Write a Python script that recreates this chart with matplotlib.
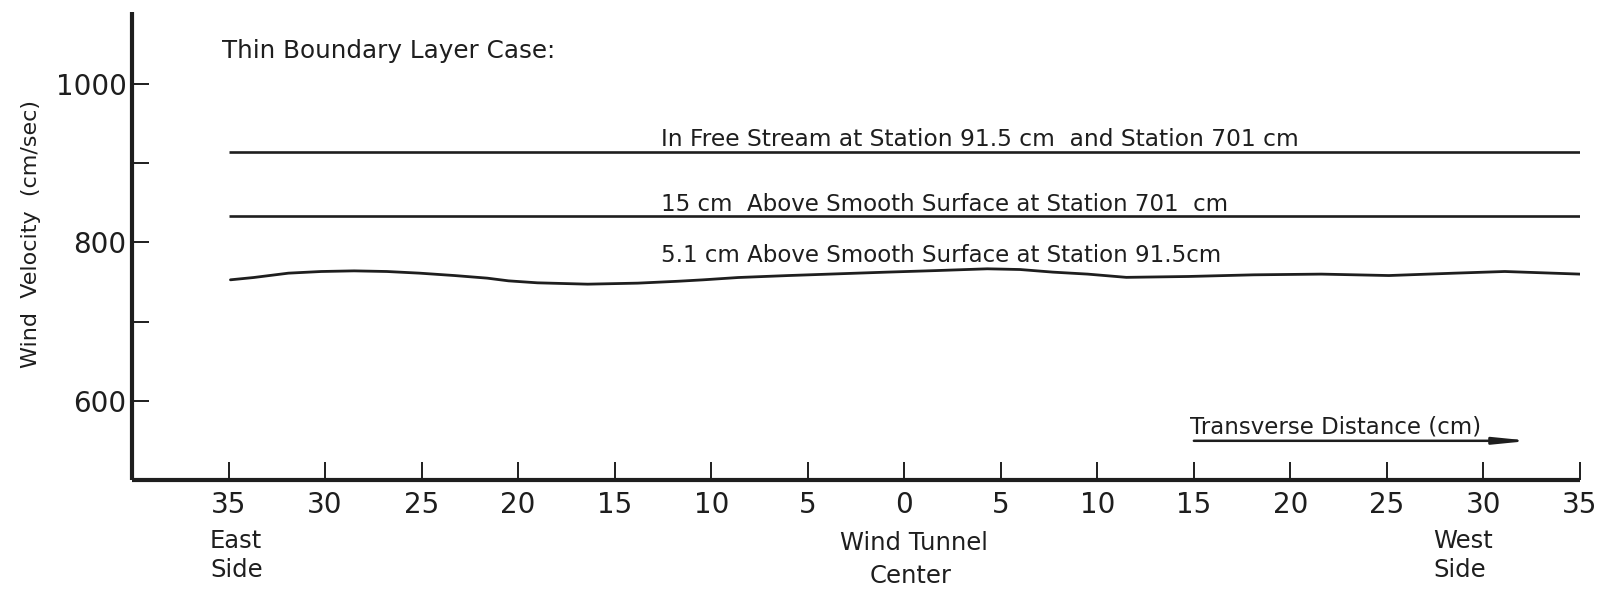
import matplotlib
matplotlib.use("Agg")
import matplotlib.pyplot as plt
from matplotlib.ticker import FixedLocator

# Transverse positions (cm); east side negative, west side positive
tick_positions = [-35, -30, -25, -20, -15, -10, -5, 0, 5, 10, 15, 20, 25, 30, 35]
tick_labels = ["35", "30", "25", "20", "15", "10", "5", "0",
               "5", "10", "15", "20", "25", "30", "35"]

# Free stream at stations 91.5 cm and 701 cm
free_x = [-35, 35]
free_v = [914, 914]

# 15 cm above smooth surface at station 701 cm
mid_x = [-35, 35]
mid_v = [833, 833]

# 5.1 cm above smooth surface at station 91.5 cm
low_x = [-34.9, -33.7, -31.9, -30.2, -28.5, -26.8, -25.1, -23.3, -21.6, -20.5,
         -19.0, -16.4, -13.8, -11.7, -10.4, -8.6, -6.0, -3.4, -0.9, 1.7,
         4.3, 6.0, 7.7, 9.5, 11.5, 14.7, 18.1, 21.6, 25.1, 28.5, 31.1, 35.0]
low_v = [752.8, 755.7, 761.2, 763.3, 764.1, 763.3, 761.2, 758.2, 754.9, 751.5,
         749.0, 747.3, 748.6, 751.0, 752.8, 755.7, 758.2, 760.4, 762.5, 764.5,
         766.7, 765.8, 762.5, 760.0, 755.9, 757.0, 759.1, 760.0, 758.2, 761.2,
         763.3, 760.0]

y_major = [600, 800, 1000]
y_minor = [700, 900]

INK = "#1e1e1e"
plt.rcParams["font.family"] = ["DejaVu Sans"]

W, H = 1611, 591
fig = plt.figure(figsize=(W / 100, H / 100), dpi=100)
fig.patch.set_facecolor("white")

left, right, bottom, top = 132, 1580, 480, 12
ax = fig.add_axes([left / W, 1 - bottom / H, (right - left) / W, (bottom - top) / H])
ax.set_xlim(-40, 35)
ax.set_ylim(500, 1091)

for sp in ("top", "right"):
    ax.spines[sp].set_visible(False)
for sp in ("left", "bottom"):
    ax.spines[sp].set_linewidth(3.0)
    ax.spines[sp].set_color(INK)
    ax.spines[sp].set_capstyle("butt")

ax.plot(free_x, free_v, color=INK, lw=1.9, solid_capstyle="butt")
ax.plot(mid_x, mid_v, color=INK, lw=1.9, solid_capstyle="butt")
ax.plot(low_x, low_v, color=INK, lw=2.0, solid_joinstyle="round",
        solid_capstyle="round")

ax.xaxis.set_major_locator(FixedLocator(tick_positions))
ax.set_xticklabels(tick_labels)
ax.yaxis.set_major_locator(FixedLocator(y_major))
ax.yaxis.set_minor_locator(FixedLocator(y_minor))
ax.set_yticklabels([str(v) for v in y_major])

ax.tick_params(axis="x", direction="in", length=13, width=1.4, color=INK,
               labelsize=20, pad=8, labelcolor=INK)
ax.tick_params(axis="y", which="both", direction="in", length=12, width=1.4,
               color=INK, labelsize=20, pad=4, labelcolor=INK)

def px(x, y):
    return x / W, 1 - y / H

fig.text(*px(222, 58), "Thin Boundary Layer Case:", fontsize=17.7,
         color=INK, ha="left", va="baseline")
fig.text(*px(661, 146), "In Free Stream at Station 91.5 cm  and Station 701 cm",
         fontsize=16.8, color=INK, ha="left", va="baseline")
fig.text(*px(661, 211), "15 cm  Above Smooth Surface at Station 701  cm",
         fontsize=16.5, color=INK, ha="left", va="baseline")
fig.text(*px(661, 262), "5.1 cm Above Smooth Surface at Station 91.5cm",
         fontsize=16.5, color=INK, ha="left", va="baseline")
fig.text(*px(1190, 434), "Transverse Distance (cm)", fontsize=16.5,
         color=INK, ha="left", va="baseline")

ax.annotate("", xy=(32.4, 549.5), xytext=(15, 549.5),
            arrowprops=dict(arrowstyle="-|>,head_length=1.0,head_width=0.1",
                            mutation_scale=20, lw=1.8, color=INK,
                            shrinkA=0, shrinkB=0))

fig.text(*px(31, 234), "Wind  Velocity  (cm/sec)", fontsize=16, color=INK,
         rotation=90, ha="center", va="center")

fig.text(*px(210, 548), "East", fontsize=17.5, color=INK, ha="left", va="baseline")
fig.text(*px(210, 577), "Side", fontsize=17.5, color=INK, ha="left", va="baseline")
fig.text(*px(1433, 548), "West", fontsize=17.5, color=INK, ha="left", va="baseline")
fig.text(*px(1433, 577), "Side", fontsize=17.5, color=INK, ha="left", va="baseline")
fig.text(*px(914, 550), "Wind Tunnel", fontsize=17.5, color=INK, ha="center", va="baseline")
fig.text(*px(911, 583), "Center", fontsize=17.5, color=INK, ha="center", va="baseline")

fig.savefig("out.png", dpi=100, facecolor="white")
